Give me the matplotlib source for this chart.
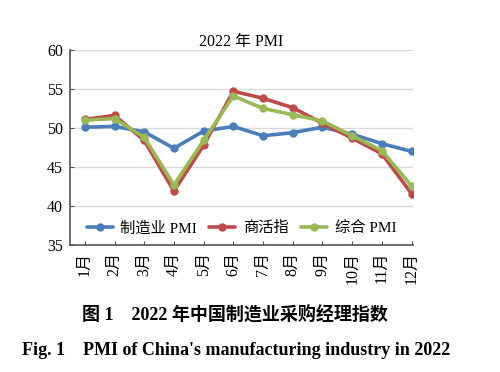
import matplotlib
matplotlib.use("Agg")
import matplotlib.pyplot as plt

months = ["1月", "2月", "3月", "4月", "5月", "6月", "7月", "8月", "9月", "10月", "11月", "12月"]
manufacturing_pmi = [50.1, 50.2, 49.5, 47.4, 49.6, 50.2, 49.0, 49.4, 50.1, 49.2, 48.0, 47.0]
business_activity = [51.1, 51.6, 48.4, 41.9, 47.8, 54.7, 53.8, 52.6, 50.6, 48.7, 46.7, 41.6]
composite_pmi = [51.0, 51.2, 48.8, 42.7, 48.4, 54.1, 52.5, 51.7, 50.9, 49.0, 47.1, 42.6]
series_names = ["制造业 PMI", "商活指", "综合 PMI"]
yticks = [35, 40, 45, 50, 55, 60]

FAM = ["Liberation Serif", "Noto Sans CJK SC", "DejaVu Sans"]
plt.rcParams["font.family"] = FAM

fig = plt.figure(figsize=(5.0, 3.72), dpi=100)
ax = fig.add_axes([0.14, 0.341, 0.686, 0.525])

x = list(range(1, len(months) + 1))
colors = ["#4a7ebb", "#be4b48", "#98b954"]
for vals, name, c in zip([manufacturing_pmi, business_activity, composite_pmi], series_names, colors):
    ax.plot(x, vals, color=c, lw=2.6, marker="o", ms=5, label=name, solid_capstyle="round")

ax.set_xlim(0.5, 12.05)
ax.set_ylim(35, 60)
ax.set_yticks(yticks)
ax.set_xticks(x)
ax.set_xticklabels(months, rotation=90, fontsize=11.5)
ax.tick_params(axis="y", labelsize=11.5, length=3, direction="in", color="#555555", pad=5)
ax.tick_params(axis="x", length=3, direction="in", color="#555555", pad=5)
ax.grid(axis="y", color="#d9d9d9", lw=1)
ax.set_axisbelow(True)
for s in ["top", "right"]:
    ax.spines[s].set_visible(False)
for s in ["left", "bottom"]:
    ax.spines[s].set_color("#555555")
    ax.spines[s].set_linewidth(1.2)

ax.set_title("2022 年 PMI", fontsize=11.5, pad=1)

leg = ax.legend(loc="lower center", bbox_to_anchor=(0.5, -0.02), ncol=3, frameon=False,
                fontsize=11, handlelength=1.7, columnspacing=0.8, handletextpad=0.5)

fig.text(0.47, 0.155, "图 1\u30002022 年中国制造业采购经理指数", ha="center", va="center",
         fontsize=13, fontweight="bold")
fig.text(0.472, 0.058, "Fig. 1\u3000PMI of China's manufacturing industry in 2022", ha="center",
         va="center", fontsize=13, fontweight="bold")

fig.savefig("out.png", dpi=100)
